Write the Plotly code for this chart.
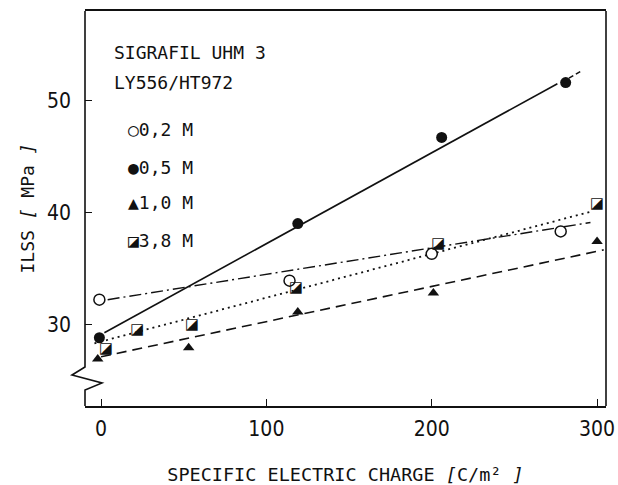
import plotly.graph_objects as go

# ---- data ----
x_02 = [-1, 114, 200, 278]
y_02 = [32.2, 33.9, 36.3, 38.3]
x_05 = [-1, 119, 206, 281]
y_05 = [28.8, 39.0, 46.7, 51.6]
x_10 = [-2, 53, 119, 201, 300]
y_10 = [26.9, 27.9, 31.1, 32.8, 37.4]
x_38 = [3, 22, 55, 118, 204, 300]
y_38 = [27.8, 29.5, 29.9, 33.2, 37.2, 40.7]

# fitted lines (end points)
fit_02_x = [4, 296]
fit_02_y = [32.2, 39.1]
fit_05_x = [2, 276]
fit_05_y = [29.25, 51.5]
ext_05_x = [283, 290]
ext_05_y = [52.0, 52.6]
fit_10_x = [0, 304]
fit_10_y = [27.1, 36.65]
fit_38_x = [-4, 297]
fit_38_y = [28.3, 40.1]

x_ticks = [0, 100, 200, 300]
y_ticks = [30, 40, 50]

legend_labels = ["○0,2 M", "●0,5 M", "▲1,0 M", "◪3,8 M"]
header = ["SIGRAFIL UHM 3", "LY556/HT972"]

BLACK = "#111111"
TXT = dict(family="DejaVu Sans Mono", size=18, color=BLACK)
TICKF = dict(family="Liberation Sans Narrow, DejaVu Sans Condensed, Liberation Sans", size=21, color=BLACK)

fig = go.Figure()
# lines
fig.add_trace(go.Scatter(x=fit_02_x, y=fit_02_y, mode="lines",
                         line=dict(color=BLACK, width=1.4, dash="12px,4px,2px,4px"), showlegend=False))
fig.add_trace(go.Scatter(x=fit_05_x, y=fit_05_y, mode="lines",
                         line=dict(color=BLACK, width=1.6), showlegend=False))
fig.add_trace(go.Scatter(x=ext_05_x, y=ext_05_y, mode="lines",
                         line=dict(color=BLACK, width=1.6, dash="5px,3px"), showlegend=False))
fig.add_trace(go.Scatter(x=fit_10_x, y=fit_10_y, mode="lines",
                         line=dict(color=BLACK, width=1.6, dash="10px,6px"), showlegend=False))
fig.add_trace(go.Scatter(x=fit_38_x, y=fit_38_y, mode="lines",
                         line=dict(color=BLACK, width=1.8, dash="2px,4px"), showlegend=False))
# markers
fig.add_trace(go.Scatter(x=x_02, y=y_02, mode="markers", name="0,2 M",
                         marker=dict(symbol="circle", size=11, color="white",
                                     line=dict(color=BLACK, width=1.5)), showlegend=False))
fig.add_trace(go.Scatter(x=x_05, y=y_05, mode="markers", name="0,5 M",
                         marker=dict(symbol="circle", size=11, color=BLACK), showlegend=False))
fig.add_trace(go.Scatter(x=x_10, y=y_10, mode="markers", name="1,0 M",
                         marker=dict(symbol="triangle-up", size=10, color=BLACK), showlegend=False))
fig.add_trace(go.Scatter(x=x_38, y=y_38, mode="text", name="3,8 M", text=["◪"] * len(x_38),
                         textposition="middle center",
                         textfont=dict(family="DejaVu Sans", size=15, color=BLACK), showlegend=False))

# legend-like annotations
header_y = [0.894, 0.818]
item_y = [0.699, 0.605, 0.514, 0.420]
for h, yy in zip(header, header_y):
    fig.add_annotation(x=0.052, y=yy, xref="paper", yref="paper", text=h,
                       showarrow=False, xanchor="left", yanchor="middle", font=TXT)
for lab, yy in zip(legend_labels, item_y):
    fig.add_annotation(x=0.079, y=yy, xref="paper", yref="paper", text=lab,
                       showarrow=False, xanchor="left", yanchor="middle", font=TXT)

# frame: right line and broken left axis
fig.add_shape(type="line", xref="paper", yref="paper", x0=1, x1=1, y0=0, y1=1,
              line=dict(color=BLACK, width=1.6))
fig.add_shape(type="path", xref="paper", yref="paper",
              path="M 0,1 L 0,0.0987 L -0.025,0.0785 L 0.0326,0.0582 L 0,0.0405 L 0,0",
              line=dict(color=BLACK, width=1.6))

fig.update_xaxes(range=[-9.7, 305.4], tickvals=x_ticks, ticks="inside", ticklen=7,
                 tickcolor=BLACK, tickwidth=1.2, showgrid=False, zeroline=False,
                 showline=True, mirror=True, linecolor=BLACK, linewidth=1.6,
                 tickfont=TICKF, ticklabelstandoff=3, automargin=False,
                 title=dict(text="SPECIFIC ELECTRIC CHARGE <i>[</i>C/m² <i>]</i>",
                            font=dict(family="DejaVu Sans Mono", size=18.5, color=BLACK), standoff=34))
fig.update_yaxes(range=[22.7, 58.0], tickvals=y_ticks, ticks="inside", ticklen=7,
                 tickcolor=BLACK, tickwidth=1.2, showgrid=False, zeroline=False,
                 showline=False, tickfont=TICKF, ticklabelstandoff=13, automargin=False,
                 title=dict(text="ILSS <i>[</i> MPa <i>]</i>", font=TXT, standoff=7))

fig.update_layout(width=618, height=485, margin=dict(l=85, r=12, t=11, b=79),
                  plot_bgcolor="white", paper_bgcolor="white", showlegend=False)

fig.write_html("out.html")
